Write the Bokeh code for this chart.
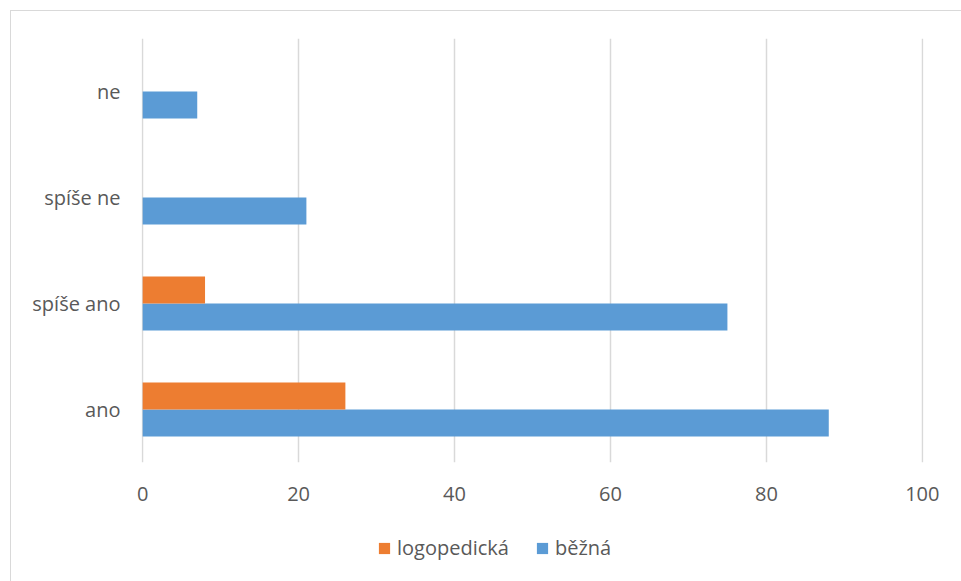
from bokeh.plotting import figure
from bokeh.layouts import column
from bokeh.models import FactorRange, FixedTicker, Legend, LegendItem, ColumnDataSource, Range1d
from bokeh.transform import dodge
from bokeh.embed import file_html
from bokeh.resources import INLINE

categories = ["ano", "spíše ano", "spíše ne", "ne"]
bezna = [88, 75, 21, 7]
logopedicka = [26, 8, 0, 0]
x_ticks = [0, 20, 40, 60, 80, 100]
series_names = ["logopedická", "běžná"]
series_colors = ["#ED7D31", "#5B9BD5"]

FONT = "Open Sans"
TXT = "#595959"
FS = "20px"

src = ColumnDataSource(dict(cat=categories, bezna=bezna, logo=logopedicka))

p = figure(width=950, height=515, y_range=FactorRange(factors=categories),
           x_range=Range1d(-0.15, 100.15), output_backend="svg", toolbar_location=None,
           min_border_left=130, min_border_right=38, min_border_top=27,
           min_border_bottom=64)
p.outline_line_color = None
p.background_fill_color = "white"
p.border_fill_color = "white"

r_b = p.hbar(y=dodge("cat", -0.1275, range=p.y_range), right="bezna", left=0,
             height=0.255, source=src, fill_color=series_colors[1], line_color=None)
r_l = p.hbar(y=dodge("cat", 0.1275, range=p.y_range), right="logo", left=0,
             height=0.255, source=src, fill_color=series_colors[0], line_color=None)

p.xaxis.ticker = FixedTicker(ticks=x_ticks)
for ax in (p.xaxis[0], p.yaxis[0]):
    ax.axis_line_color = None
    ax.major_tick_line_color = None
    ax.minor_tick_line_color = None
    ax.major_tick_out = 0
    ax.major_tick_in = 0
    ax.minor_tick_out = 0
    ax.major_label_text_font = FONT
    ax.major_label_text_font_size = FS
    ax.major_label_text_color = TXT
p.xaxis.major_label_standoff = 24
p.yaxis.major_label_standoff = 21

p.xgrid.grid_line_color = "#d9d9d9"
p.xgrid.grid_line_width = 1.5
p.ygrid.grid_line_color = None

# legend strip below the chart (its renderers are hidden; only swatches show)
p2 = figure(width=950, height=55, output_backend="svg", toolbar_location=None,
            x_range=Range1d(-2, -1), y_range=FactorRange(factors=categories),
            x_axis_location=None, y_axis_location=None,
            min_border_left=0, min_border_right=0, min_border_top=0, min_border_bottom=0)
p2.outline_line_color = None
p2.grid.grid_line_color = None
p2.background_fill_color = "white"
p2.border_fill_color = "white"
lr_l = p2.hbar(y="cat", right="logo", left=0, height=0.25, source=src,
               fill_color=series_colors[0], line_color=None, visible=False)
lr_b = p2.hbar(y="cat", right="bezna", left=0, height=0.25, source=src,
               fill_color=series_colors[1], line_color=None, visible=False)

legend = Legend(items=[LegendItem(label=series_names[0], renderers=[lr_l]),
                       LegendItem(label=series_names[1], renderers=[lr_b])],
                orientation="horizontal", location=(236, 20),
                glyph_width=14, glyph_height=14, label_standoff=6, spacing=26,
                label_text_font=FONT, label_text_font_size=FS, label_text_color=TXT,
                inactive_fill_alpha=0,
                border_line_color=None, background_fill_alpha=0, margin=0, padding=0)
p2.add_layout(legend)

layout = column(p, p2, spacing=0, margin=(10, 0, 0, 10),
                styles={"border-left": "1px solid #d9d9d9", "border-top": "1px solid #d9d9d9"})

open("out.html", "w").write(file_html(layout, INLINE))
